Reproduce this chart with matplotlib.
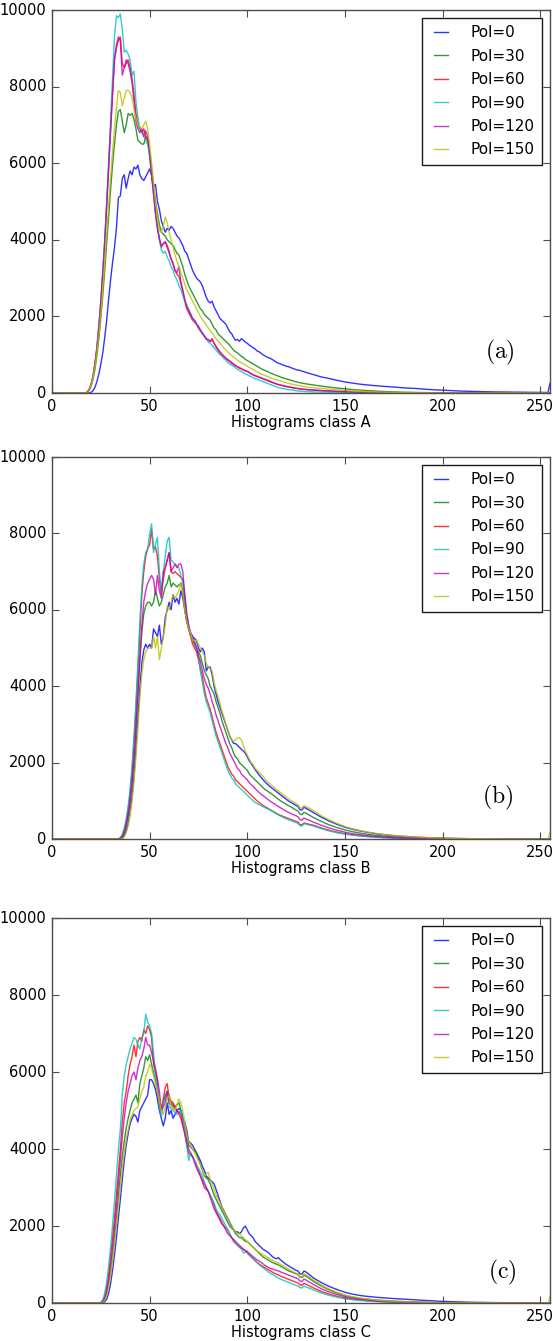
import matplotlib
matplotlib.use('Agg')
import matplotlib.pyplot as plt

# ---------------- data ----------------
# x grid: 0, 10, every integer 16..130, every 4 from 134..250, then 254, 255
X_GRID = [0, 10] + list(range(16, 131)) + list(range(134, 251, 4)) + [254, 255]

LABELS = ['Pol=0', 'Pol=30', 'Pol=60', 'Pol=90', 'Pol=120', 'Pol=150']
XLABELS = ['Histograms class A', 'Histograms class B', 'Histograms class C']
TAGS = ['(a)', '(b)', '(c)']

# ---- class A ----
A_POL0 = [0, 0,
    0, 0, 0, 0, 20, 60, 150, 300, 500, 750,
    1050, 1450, 1900, 2450, 2950, 3400, 3800, 4300, 5100, 5150,
    5600, 5700, 5350, 5600, 5800, 5700, 5900, 5850, 5950, 5700,
    5600, 5550, 5650, 5750, 5850, 5700, 5400, 5450, 5000, 4800,
    4500, 4350, 4200, 4300, 4250, 4350, 4300, 4200, 4100, 4050,
    3950, 3850, 3700, 3650, 3500, 3350, 3200, 3100, 3000, 2950,
    2900, 2800, 2650, 2500, 2400, 2350, 2400, 2250, 2150, 2050,
    1950, 1900, 1850, 1800, 1700, 1600, 1550, 1450, 1380, 1400,
    1350, 1420, 1380, 1330, 1300, 1250, 1220, 1180, 1150, 1100,
    1080, 1040, 1000, 970, 940, 920, 900, 870, 840, 800,
    780, 760, 740, 720, 700, 690, 670, 650, 630, 610,
    600, 590, 570, 560, 540,
    480, 420, 380, 330, 290, 260, 230, 210, 190, 175,
    160, 145, 130, 120, 105, 90, 80, 70, 60, 50,
    45, 40, 35, 30, 28, 25, 22, 20, 18, 16,
    15, 250]
A_POL30 = [0, 0,
    0, 0, 20, 70, 180, 360, 620, 980, 1420, 1950,
    2550, 3200, 3900, 4600, 5300, 5950, 6500, 7000, 7350, 7400,
    7100, 6800, 7000, 7300, 7250, 7300, 7150, 6900, 6600, 6550,
    6500, 6500, 6700, 6600, 6300, 5900, 5400, 5000, 4700, 4400,
    4200, 4150, 4100, 4000, 3950, 3900, 3850, 3750, 3650, 3600,
    3450, 3300, 3100, 2950, 2800, 2700, 2600, 2500, 2400, 2300,
    2200, 2150, 2050, 2000, 1950, 1900, 1800, 1700, 1650, 1550,
    1500, 1450, 1400, 1350, 1300, 1250, 1180, 1120, 1080, 1050,
    1000, 960, 930, 880, 850, 820, 790, 760, 730, 700,
    670, 640, 610, 590, 570, 550, 520, 500, 480, 460,
    440, 420, 400, 385, 370, 355, 340, 325, 310, 295,
    280, 270, 260, 250, 240,
    210, 180, 155, 130, 110, 90, 75, 62, 50, 40,
    32, 25, 20, 15, 12, 9, 7, 5, 4, 3,
    2, 2, 1, 1, 0, 0, 0, 0, 0, 0,
    0, 0]
A_POL60 = [0, 0,
    0, 0, 30, 100, 230, 450, 780, 1200, 1750, 2400,
    3150, 3950, 4900, 5900, 6900, 7800, 8700, 9000, 9200, 9300,
    8600, 8500, 8600, 8700, 8500, 8200, 7800, 7300, 7000, 6900,
    6800, 6900, 6700, 6600, 6200, 5700, 5200, 4700, 4300, 4000,
    3800, 3900, 3950, 3850, 3700, 3500, 3400, 3200, 3100, 3050,
    2850, 2650, 2400, 2200, 2100, 2000, 1900, 1850, 1800, 1750,
    1650, 1550, 1500, 1400, 1380, 1350, 1420, 1300, 1200, 1120,
    1050, 1000, 950, 900, 860, 820, 780, 740, 710, 680,
    650, 630, 600, 580, 560, 530, 500, 470, 450, 430,
    410, 390, 370, 350, 330, 310, 290, 270, 250, 235,
    220, 205, 195, 180, 170, 160, 150, 140, 130, 120,
    115, 105, 100, 95, 90,
    75, 62, 50, 42, 34, 27, 21, 17, 13, 10,
    8, 6, 5, 4, 3, 2, 2, 1, 1, 0,
    0, 0, 0, 0, 0, 0, 0, 0, 0, 0,
    0, 0]
A_POL90 = [0, 0,
    0, 0, 20, 80, 200, 420, 750, 1200, 1750, 2400,
    3150, 4000, 4950, 6000, 7100, 8200, 9300, 9850, 9800, 9900,
    9500, 8900, 8950, 8850, 8700, 8300, 8400, 7600, 7200, 6900,
    6800, 6700, 6600, 6500, 6200, 5700, 5300, 4700, 4400, 4000,
    3750, 3650, 3700, 3550, 3450, 3300, 3200, 3050, 2950, 2800,
    2700, 2550, 2400, 2300, 2200, 2080, 1950, 1900, 1820, 1700,
    1650, 1580, 1500, 1430, 1330, 1300, 1250, 1180, 1120, 1060,
    1000, 960, 900, 860, 800, 760, 730, 700, 660, 620,
    590, 560, 530, 500, 480, 450, 430, 400, 380, 360,
    340, 320, 300, 280, 260, 240, 220, 200, 180, 160,
    140, 130, 120, 110, 100, 90, 85, 80, 70, 60,
    55, 50, 45, 40, 40,
    30, 25, 20, 15, 12, 10, 8, 6, 5, 4,
    3, 2, 2, 1, 1, 0, 0, 0, 0, 0,
    0, 0, 0, 0, 0, 0, 0, 0, 0, 0,
    0, 0]
A_POL120 = [0, 0,
    0, 0, 30, 90, 210, 420, 740, 1150, 1700, 2350,
    3100, 3900, 4850, 5850, 6850, 7800, 8700, 9100, 9300, 9200,
    8300, 8500, 8700, 8600, 8400, 8100, 7600, 7100, 6900, 6800,
    6900, 6700, 6850, 6700, 6300, 5700, 5200, 4700, 4300, 4050,
    3850, 3900, 3950, 3800, 3650, 3500, 3350, 3200, 3150, 3300,
    2900, 2700, 2450, 2250, 2150, 2050, 1950, 1900, 1800, 1700,
    1620, 1560, 1480, 1420, 1400, 1350, 1380, 1300, 1220, 1150,
    1080, 1020, 970, 920, 880, 840, 800, 760, 720, 690,
    660, 640, 610, 590, 570, 540, 510, 480, 460, 440,
    420, 400, 380, 360, 340, 320, 300, 280, 260, 240,
    220, 210, 200, 185, 175, 165, 155, 145, 135, 125,
    120, 110, 105, 100, 95,
    80, 65, 55, 45, 35, 28, 22, 18, 14, 10,
    8, 6, 5, 4, 3, 2, 2, 1, 1, 0,
    0, 0, 0, 0, 0, 0, 0, 0, 0, 0,
    0, 0]
A_POL150 = [0, 0,
    0, 0, 30, 90, 210, 400, 680, 1050, 1500, 2050,
    2700, 3400, 4150, 4900, 5650, 6300, 6900, 7450, 7900, 7850,
    7500, 7700, 7900, 7900, 7850, 7700, 7400, 7150, 7000, 6950,
    6900, 7000, 7100, 6900, 6500, 6000, 5500, 5000, 4600, 4250,
    4200, 4350, 4600, 4450, 4200, 4000, 3800, 3600, 3450, 3300,
    3150, 3000, 2850, 2700, 2600, 2500, 2400, 2300, 2200, 2100,
    2000, 1920, 1850, 1780, 1700, 1630, 1560, 1490, 1420, 1360,
    1300, 1240, 1180, 1130, 1080, 1030, 980, 940, 900, 860,
    820, 790, 760, 730, 700, 670, 640, 610, 580, 550,
    530, 500, 480, 460, 440, 420, 400, 380, 360, 345,
    330, 315, 300, 285, 270, 255, 240, 230, 220, 210,
    200, 190, 180, 170, 160,
    140, 120, 100, 85, 70, 55, 45, 35, 28, 22,
    17, 13, 10, 8, 6, 4, 3, 2, 1, 1,
    0, 0, 0, 0, 0, 0, 0, 0, 0, 0,
    0, 0]

# ---- class B ----
B_POL0 = [0, 0,
    0, 0, 0, 0, 0, 0, 0, 0, 0, 0,
    0, 0, 0, 0, 0, 0, 0, 0, 0, 0,
    20, 80, 200, 400, 700, 1100, 1650, 2350, 3150, 3950,
    4600, 4950, 5100, 5000, 5100, 5000, 5500, 5400, 5300, 5600,
    5100, 5300, 5800, 6000, 6200, 6000, 6400, 6200, 6300, 6150,
    6500, 6300, 6000, 5700, 5500, 5400, 5300, 5250, 5200, 5000,
    4900, 5000, 4900, 4400, 4500, 4500, 4300, 4000, 3800, 3600,
    3450, 3300, 3150, 3000, 2850, 2700, 2600, 2500, 2500, 2450,
    2400, 2350, 2300, 2250, 2150, 2050, 1980, 1900, 1820, 1750,
    1680, 1620, 1560, 1500, 1450, 1400, 1360, 1320, 1280, 1240,
    1200, 1160, 1120, 1080, 1040, 1000, 970, 940, 910, 880,
    850, 770, 760, 830, 810,
    690, 570, 470, 385, 310, 255, 210, 172, 140, 115,
    94, 77, 63, 51, 41, 33, 27, 21, 17, 13,
    10, 8, 6, 5, 4, 3, 2, 2, 1, 1,
    1, 0]
B_POL30 = [0, 0,
    0, 0, 0, 0, 0, 0, 0, 0, 0, 0,
    0, 0, 0, 0, 0, 0, 0, 0, 0, 10,
    50, 150, 330, 600, 950, 1450, 2100, 2900, 3800, 4700,
    5400, 5900, 6100, 6200, 6200, 6100, 6200, 6500, 6300, 6100,
    6200, 6400, 6600, 6700, 6900, 6600, 6700, 6650, 6600, 6650,
    6700, 6500, 6000, 5700, 5500, 5350, 5200, 5100, 5000, 4900,
    4800, 4600, 4400, 4300, 4200, 4000, 3900, 3800, 3600, 3450,
    3300, 3100, 2950, 2800, 2650, 2500, 2400, 2250, 2150, 2100,
    2000, 1950, 1900, 1850, 1800, 1700, 1650, 1600, 1550, 1500,
    1450, 1400, 1350, 1300, 1270, 1230, 1200, 1160, 1120, 1080,
    1040, 1000, 970, 940, 910, 880, 850, 820, 790, 760,
    730, 650, 640, 700, 680,
    560, 460, 370, 300, 240, 192, 154, 122, 97, 77,
    61, 48, 38, 30, 23, 18, 14, 11, 8, 6,
    5, 4, 3, 2, 2, 1, 1, 0, 0, 0,
    0, 0]
B_POL60 = [0, 0,
    0, 0, 0, 0, 0, 0, 0, 0, 0, 0,
    0, 0, 0, 0, 0, 0, 0, 0, 10, 30,
    100, 240, 460, 780, 1200, 1800, 2550, 3450, 4450, 5500,
    6400, 7000, 7400, 7600, 7700, 8100, 7600, 7650, 7400, 6800,
    6400, 6800, 7100, 7300, 7500, 7000, 6950, 7000, 6950, 6900,
    6850, 6800, 6300, 5800, 5500, 5300, 5100, 5000, 4900, 4700,
    4450, 4250, 3950, 3700, 3550, 3400, 3200, 3000, 2800, 2650,
    2500, 2350, 2200, 2050, 1900, 1800, 1700, 1650, 1550, 1500,
    1450, 1400, 1350, 1300, 1250, 1200, 1150, 1100, 1050, 1000,
    960, 920, 880, 850, 820, 790, 760, 730, 700, 670,
    640, 620, 600, 580, 560, 540, 520, 500, 480, 460,
    440, 380, 370, 420, 410,
    360, 290, 230, 180, 140, 110, 86, 67, 52, 40,
    31, 24, 18, 14, 11, 8, 6, 5, 4, 3,
    2, 2, 1, 1, 0, 0, 0, 0, 0, 0,
    0, 0]
B_POL90 = [0, 0,
    0, 0, 0, 0, 0, 0, 0, 0, 0, 0,
    0, 0, 0, 0, 0, 0, 0, 0, 10, 40,
    120, 280, 520, 850, 1300, 1900, 2700, 3600, 4600, 5700,
    6600, 7200, 7500, 7600, 8000, 8250, 7500, 7700, 7900, 7000,
    6500, 7000, 7400, 7800, 7900, 7300, 7250, 7200, 7150, 7100,
    6900, 6700, 6400, 5900, 5600, 5300, 5250, 5200, 5000, 4800,
    4400, 4100, 3800, 3600, 3450, 3300, 3100, 2900, 2700, 2550,
    2400, 2250, 2100, 1950, 1800, 1700, 1600, 1550, 1450, 1400,
    1350, 1300, 1250, 1200, 1150, 1100, 1050, 1000, 960, 930,
    900, 880, 850, 820, 800, 780, 750, 720, 690, 660,
    630, 600, 575, 550, 530, 510, 490, 470, 450, 430,
    410, 350, 340, 400, 390,
    340, 270, 212, 165, 128, 100, 78, 60, 46, 35,
    27, 21, 16, 12, 9, 7, 5, 4, 3, 2,
    2, 1, 1, 0, 0, 0, 0, 0, 0, 0,
    0, 0]
B_POL120 = [0, 0,
    0, 0, 0, 0, 0, 0, 0, 0, 0, 0,
    0, 0, 0, 0, 0, 0, 0, 0, 0, 10,
    60, 180, 380, 650, 1000, 1500, 2150, 2950, 3850, 4800,
    5600, 6200, 6500, 6700, 6800, 6900, 6800, 6400, 6900, 6500,
    6300, 7000, 7100, 7300, 7500, 7000, 7100, 7200, 7100, 7200,
    7200, 7000, 6400, 5900, 5600, 5400, 5300, 5150, 5000, 4800,
    4650, 4400, 4200, 4050, 3950, 3800, 3600, 3450, 3250, 3100,
    2950, 2800, 2650, 2500, 2400, 2250, 2150, 2050, 1950, 1850,
    1800, 1700, 1650, 1600, 1550, 1480, 1420, 1380, 1320, 1270,
    1220, 1180, 1140, 1100, 1060, 1020, 980, 950, 920, 880,
    850, 820, 790, 760, 730, 700, 680, 650, 630, 610,
    580, 510, 490, 550, 530,
    440, 360, 290, 230, 180, 142, 112, 88, 69, 54,
    42, 33, 26, 20, 15, 12, 9, 7, 5, 4,
    3, 2, 2, 1, 1, 0, 0, 0, 0, 0,
    0, 0]
B_POL150 = [0, 0,
    0, 0, 0, 0, 0, 0, 0, 0, 0, 0,
    0, 0, 0, 0, 0, 0, 0, 0, 0, 0,
    10, 60, 170, 350, 620, 1000, 1500, 2150, 2900, 3700,
    4300, 4700, 4900, 5000, 5000, 5000, 5300, 5000, 5300, 4700,
    5000, 5300, 5600, 6100, 6000, 6200, 6400, 6300, 6400, 6500,
    6700, 6400, 6000, 5700, 5500, 5400, 5200, 5200, 5200, 5100,
    5000, 4900, 4800, 4600, 4500, 4450, 4400, 4100, 3900, 3750,
    3550, 3350, 3200, 3000, 2850, 2700, 2600, 2550, 2600, 2650,
    2650, 2600, 2450, 2300, 2200, 2100, 2000, 1950, 1850, 1800,
    1750, 1700, 1650, 1580, 1520, 1470, 1420, 1380, 1340, 1300,
    1260, 1220, 1180, 1140, 1100, 1060, 1020, 990, 960, 930,
    900, 820, 810, 880, 860,
    740, 610, 500, 410, 330, 270, 220, 180, 148, 120,
    98, 80, 65, 52, 42, 34, 27, 21, 17, 13,
    10, 8, 6, 5, 4, 3, 2, 2, 1, 1,
    1, 180]

# ---- class C ----
C_POL0 = [0, 0,
    0, 0, 0, 0, 0, 0, 0, 0, 0, 0,
    0, 30, 100, 250, 500, 850, 1250, 1700, 2200, 2700,
    3200, 3700, 4100, 4400, 4650, 4800, 4900, 4850, 4700, 5000,
    5100, 5200, 5300, 5400, 5800, 5800, 5700, 5550, 5300, 5000,
    4800, 4600, 4800, 5200, 4900, 5000, 4800, 4900, 5000, 5050,
    5000, 4800, 4700, 4500, 4200, 4150, 4100, 4000, 3900, 3800,
    3700, 3550, 3450, 3300, 3250, 3200, 3150, 3100, 2950, 2800,
    2650, 2500, 2400, 2300, 2200, 2100, 2000, 1900, 1850, 1850,
    1800, 1850, 1950, 2000, 1900, 1800, 1750, 1700, 1600, 1550,
    1500, 1450, 1400, 1370, 1340, 1300, 1250, 1200, 1170, 1150,
    1180, 1120, 1080, 1040, 1000, 970, 940, 910, 880, 850,
    830, 760, 750, 830, 810,
    650, 530, 430, 350, 280, 230, 195, 170, 150, 135,
    120, 108, 95, 82, 70, 58, 48, 40, 33, 27,
    22, 18, 15, 12, 10, 8, 6, 5, 4, 3,
    3, 0]
C_POL30 = [0, 0,
    0, 0, 0, 0, 0, 0, 0, 0, 0, 0,
    20, 90, 230, 480, 820, 1250, 1700, 2200, 2750, 3300,
    3800, 4200, 4550, 4800, 5000, 5200, 5300, 5400, 5200, 5700,
    5900, 6100, 6400, 6300, 6450, 6200, 6000, 5800, 5500, 5200,
    5100, 5200, 5400, 5500, 5400, 5200, 5150, 5100, 5150, 5200,
    5000, 4800, 4600, 4400, 4100, 4050, 4000, 3950, 3900, 3750,
    3600, 3450, 3300, 3250, 3200, 3100, 2950, 2800, 2700, 2600,
    2500, 2400, 2300, 2200, 2100, 2000, 1950, 1900, 1800, 1750,
    1700, 1700, 1650, 1600, 1600, 1550, 1500, 1450, 1400, 1350,
    1300, 1250, 1200, 1170, 1140, 1110, 1080, 1050, 1030, 1010,
    990, 960, 930, 900, 870, 840, 820, 800, 780, 760,
    740, 670, 660, 720, 700,
    560, 440, 340, 260, 195, 150, 120, 95, 78, 64,
    52, 42, 34, 27, 22, 17, 13, 10, 8, 6,
    5, 4, 3, 2, 2, 1, 1, 0, 0, 0,
    0, 0]
C_POL60 = [0, 0,
    0, 0, 0, 0, 0, 0, 0, 0, 0, 10,
    50, 170, 400, 750, 1200, 1700, 2200, 2800, 3400, 4000,
    4700, 5200, 5500, 5900, 6200, 6400, 6700, 6400, 6800, 6900,
    6800, 7100, 7000, 7200, 7100, 6900, 6200, 6000, 5800, 5100,
    5000, 5300, 5600, 5700, 5300, 5250, 5200, 5100, 5000, 4900,
    4800, 4600, 4400, 4100, 3900, 3850, 3800, 3700, 3600, 3450,
    3300, 3150, 3000, 2950, 2900, 2800, 2700, 2550, 2400, 2300,
    2200, 2100, 2000, 1950, 1900, 1800, 1700, 1600, 1550, 1500,
    1450, 1420, 1400, 1350, 1300, 1250, 1200, 1150, 1100, 1060,
    1020, 980, 950, 920, 890, 860, 830, 800, 770, 750,
    730, 700, 680, 660, 640, 620, 600, 580, 560, 540,
    520, 470, 460, 510, 490,
    390, 300, 230, 175, 130, 100, 78, 60, 46, 35,
    27, 21, 16, 12, 9, 7, 5, 4, 3, 2,
    2, 1, 1, 0, 0, 0, 0, 0, 0, 0,
    0, 0]
C_POL90 = [0, 0,
    0, 0, 0, 0, 0, 0, 0, 0, 0, 20,
    80, 250, 550, 950, 1450, 2000, 2650, 3300, 4000, 4500,
    5400, 5900, 6200, 6400, 6600, 6750, 6900, 6850, 6700, 6600,
    6900, 7000, 7500, 7300, 7200, 7000, 6500, 5900, 5600, 5100,
    4850, 5200, 5300, 5500, 5100, 5050, 5000, 4950, 4900, 4950,
    5000, 4800, 4600, 4100, 3700, 3900, 3800, 3700, 3550, 3500,
    3400, 3300, 3150, 3000, 2900, 2800, 2700, 2600, 2450, 2350,
    2300, 2200, 2100, 2000, 1900, 1800, 1700, 1650, 1550, 1500,
    1450, 1400, 1300, 1320, 1350, 1250, 1200, 1150, 1100, 1050,
    1000, 960, 920, 880, 840, 800, 770, 740, 710, 680,
    650, 620, 600, 580, 560, 540, 520, 500, 480, 460,
    440, 400, 390, 440, 420,
    340, 260, 200, 150, 110, 85, 65, 50, 38, 29,
    22, 17, 13, 10, 8, 6, 4, 3, 2, 2,
    1, 1, 0, 0, 0, 0, 0, 0, 0, 0,
    0, 0]
C_POL120 = [0, 0,
    0, 0, 0, 0, 0, 0, 0, 0, 0, 0,
    30, 120, 300, 600, 1000, 1450, 1950, 2500, 3100, 3700,
    4300, 4800, 5200, 5500, 5700, 5900, 6000, 5800, 6100, 6300,
    6400, 6600, 6900, 6700, 6700, 6500, 6300, 6100, 5800, 5500,
    5000, 5100, 5200, 5500, 5200, 5150, 5100, 5050, 5000, 4950,
    4900, 4650, 4400, 4200, 4000, 3900, 3800, 3650, 3500, 3400,
    3300, 3200, 3100, 3000, 2900, 2750, 2600, 2450, 2350, 2250,
    2150, 2050, 2000, 1900, 1800, 1750, 1700, 1650, 1600, 1550,
    1500, 1450, 1400, 1370, 1330, 1290, 1250, 1200, 1160, 1120,
    1100, 1060, 1020, 980, 950, 920, 900, 880, 860, 850,
    830, 810, 790, 770, 750, 730, 710, 690, 670, 650,
    630, 570, 560, 620, 600,
    480, 370, 285, 220, 165, 128, 100, 78, 60, 46,
    36, 28, 22, 17, 13, 10, 8, 6, 4, 3,
    2, 2, 1, 1, 0, 0, 0, 0, 0, 0,
    0, 0]
C_POL150 = [0, 0,
    0, 0, 0, 0, 0, 0, 0, 0, 0, 0,
    10, 70, 190, 400, 700, 1100, 1550, 2000, 2500, 3000,
    3500, 3900, 4250, 4500, 4750, 4900, 5000, 5050, 5100, 5300,
    5500, 5600, 5900, 6000, 6200, 6100, 5900, 5700, 5500, 5250,
    5000, 4900, 5100, 5300, 5400, 5100, 5050, 5000, 5150, 5300,
    5200, 5000, 4700, 4400, 4200, 4100, 4000, 3900, 3800, 3700,
    3600, 3450, 3300, 3350, 3400, 3200, 3100, 2950, 2800, 2700,
    2600, 2500, 2400, 2300, 2200, 2100, 2000, 1900, 1850, 1800,
    1800, 1750, 1700, 1650, 1600, 1550, 1500, 1450, 1400, 1350,
    1320, 1290, 1260, 1230, 1200, 1170, 1140, 1110, 1080, 1060,
    1040, 1010, 980, 950, 920, 890, 860, 830, 800, 780,
    760, 690, 680, 760, 740,
    600, 470, 365, 280, 210, 165, 130, 102, 80, 63,
    50, 40, 32, 25, 20, 15, 12, 9, 7, 5,
    4, 3, 2, 2, 1, 1, 1, 0, 0, 0,
    0, 160]

PANELS = [
    [A_POL0, A_POL30, A_POL60, A_POL90, A_POL120, A_POL150],
    [B_POL0, B_POL30, B_POL60, B_POL90, B_POL120, B_POL150],
    [C_POL0, C_POL30, C_POL60, C_POL90, C_POL120, C_POL150],
]

# ---------------- style ----------------
plt.style.use('classic')
plt.rcParams.update({
    'figure.facecolor': 'white',
    'savefig.facecolor': 'white',
    'font.family': ['DejaVu Sans'],
    'mathtext.fontset': 'cm',
})

COLORS = ['b', 'g', 'r', 'c', 'm', 'y']
AX_POS = [
    (0.094, 0.7069, 0.9005, 0.2856),
    (0.094, 0.3743, 0.9005, 0.2849),
    (0.094, 0.0283, 0.9005, 0.2871),
]
TAG_POS = [(0.90, 0.107), (0.895, 0.11), (0.905, 0.08)]

fig = plt.figure(figsize=(5.53, 13.41), dpi=100)

for i, series in enumerate(PANELS):
    ax = fig.add_axes(AX_POS[i])
    for ys, col, lab in zip(series, COLORS, LABELS):
        ax.plot(X_GRID, ys, color=col, lw=1.0, alpha=0.8, label=lab)
    ax.set_xlim(0, 255)
    ax.set_ylim(0, 10000)
    ax.set_xticks([0, 50, 100, 150, 200, 250])
    ax.set_yticks([0, 2000, 4000, 6000, 8000, 10000])
    ax.tick_params(labelsize=10.5, direction='in', top=True, right=True,
                   length=5, width=0.8, color='0.3')
    for sp in ax.spines.values():
        sp.set_color('0.3')
        sp.set_linewidth(1.0)
    ax.set_xlabel(XLABELS[i], fontsize=10.5, labelpad=1)
    leg = ax.legend(loc='upper right', fontsize=11, handlelength=1.5,
                    handletextpad=1.2, labelspacing=0.55, borderpad=0.5,
                    borderaxespad=0.5, fancybox=False, framealpha=1.0)
    leg.get_frame().set_edgecolor('0.1')
    leg.get_frame().set_linewidth(1.0)
    ax.text(TAG_POS[i][0], TAG_POS[i][1], r'$\mathrm{' + TAGS[i] + '}$',
            transform=ax.transAxes, ha='center', va='center', fontsize=17)

fig.savefig('out.png', dpi=100)
